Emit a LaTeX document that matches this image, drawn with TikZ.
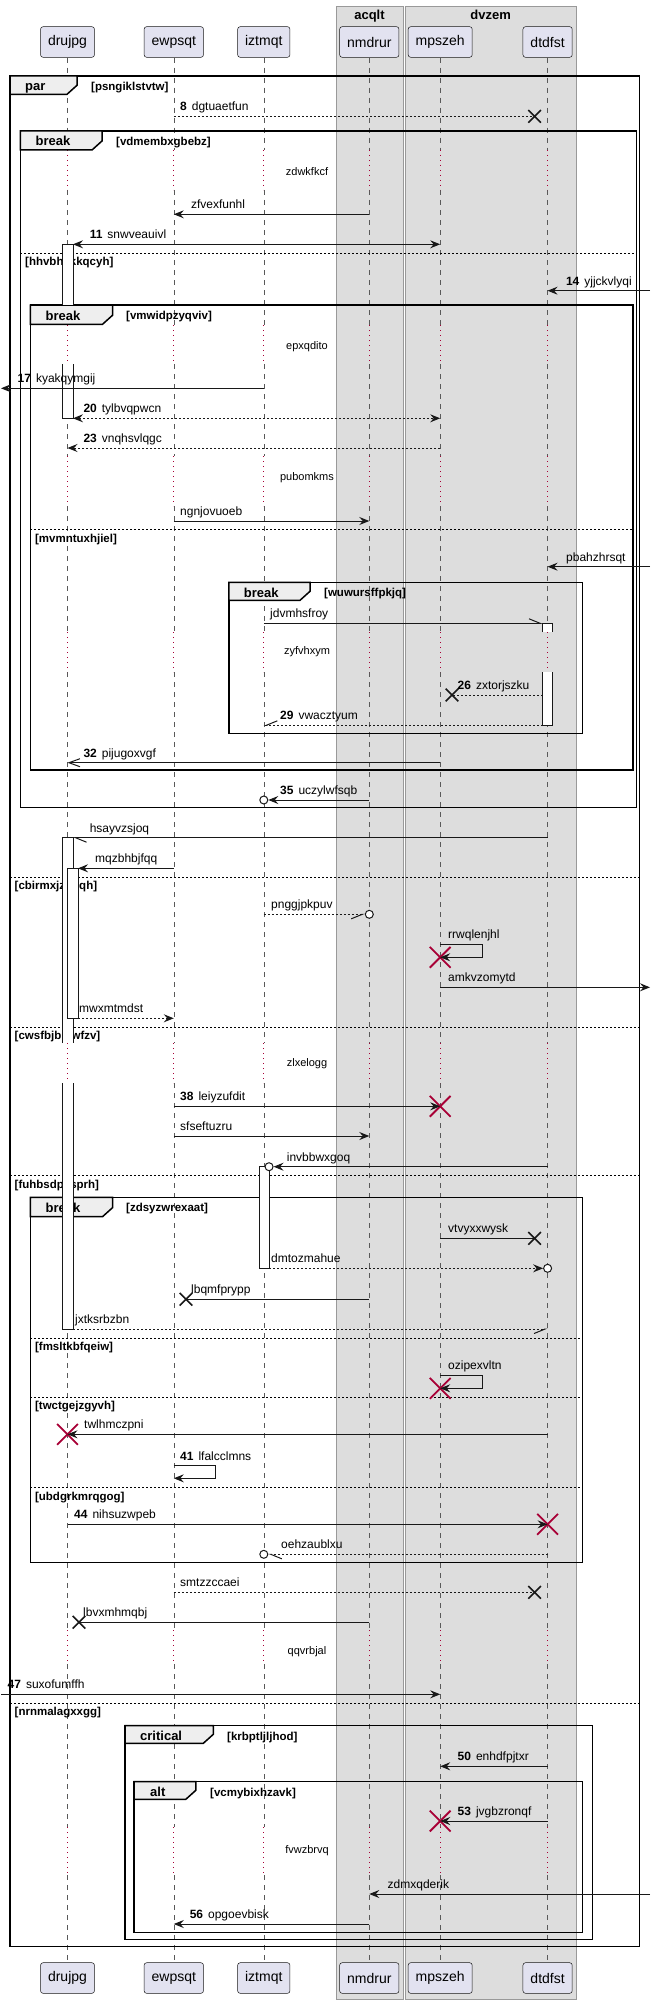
\documentclass[tikz,border=0pt]{standalone}
\usepackage{fontspec}
\setmainfont{Liberation Sans}
\usepackage{tikz}
\usetikzlibrary{arrows.meta,shapes.misc}

\definecolor{partfill}{HTML}{E2E2F0}
\definecolor{linecol}{HTML}{181818}
\definecolor{boxfill}{HTML}{DDDDDD}
\definecolor{tabfill}{HTML}{EEEEEE}
\definecolor{killred}{HTML}{A80036}

\tikzset{
  part/.style={draw=linecol, line width=0.5pt, fill=partfill, rounded corners=2.5pt, inner xsep=7.5pt, inner ysep=0pt, minimum height=30.6pt, font=\fontsize{14}{16}\selectfont},
  grpbox/.style={draw=gray!80, line width=0.7pt, fill=boxfill},
  grptitle/.style={font=\fontsize{13}{15}\selectfont\bfseries, anchor=base, inner sep=0pt},
  lifeline/.style={draw=gray!70!black, line width=0.6pt, dash pattern=on 5pt off 5pt},
  waitline/.style={draw=killred, line width=0.9pt, dash pattern=on 1pt off 4pt},
  grpframe/.style={draw=black, line width=1.5pt},
  grouptab/.style={draw=black, line width=1.5pt, fill=tabfill},
  tabtxt/.style={font=\fontsize{13}{15}\selectfont\bfseries, anchor=base west, inner sep=0pt},
  condtxt/.style={font=\fontsize{11.5}{13}\selectfont\bfseries, anchor=base west, inner sep=0pt},
  elseline/.style={draw=black, line width=0.8pt, dash pattern=on 2pt off 2pt},
  acts/.style={draw=linecol, line width=1pt, fill=white},
  msg/.style={draw=linecol, line width=1pt},
  dotmsg/.style={msg, dash pattern=on 2pt off 2pt},
  lbl/.style={font=\fontsize{12}{14}\selectfont, anchor=base west, inner sep=0pt},
  waittxt/.style={font=\fontsize{11}{13}\selectfont, inner sep=0pt},
  lostx/.style={cross out, draw=linecol, line width=1.6pt, minimum size=11pt, inner sep=0pt},
  killx/.style={cross out, draw=killred, line width=1.8pt, minimum size=19pt, inner sep=0pt},
  endo/.style={circle, draw=linecol, line width=1pt, fill=white, minimum size=8pt, inner sep=0pt}
}

\begin{document}
\begin{tikzpicture}[x=1pt, y=-1pt, >={Stealth[length=10pt,width=8pt,inset=3.5pt]}]
   \useasboundingbox (0,0) rectangle (652,2004);
   %boxes
   \draw[grpbox] (336,6) rectangle (403,1999);
   \draw[grpbox] (405.4,6) rectangle (576,1999);
   \node[grptitle] (acqlt) at (369.5,19.5) {acqlt};
   \node[grptitle] (dvzem) at (490.7,19.5) {dvzem};

   %participants
   \node[part] (drujpg) at (67.5,42) {drujpg};
   \node[part] (ewpsqt) at (173.8,42) {ewpsqt};
   \node[part] (iztmqt) at (263.8,42) {iztmqt};
   \node[part] (nmdrur) at (369.3,42) {nmdrur};
   \node[part] (mpszeh) at (440.2,42) {mpszeh};
   \node[part] (dtdfst) at (547.6,42) {dtdfst};
   \node[part] (drujpg-end) at (67.5,1978) {drujpg};
   \node[part] (ewpsqt-end) at (173.8,1978) {ewpsqt};
   \node[part] (iztmqt-end) at (263.8,1978) {iztmqt};
   \node[part] (nmdrur-end) at (369.3,1978) {nmdrur};
   \node[part] (mpszeh-end) at (440.2,1978) {mpszeh};
   \node[part] (dtdfst-end) at (547.6,1978) {dtdfst};

   \coordinate (druA) at ([xshift=5.5pt]drujpg.center);
   \coordinate (druB) at ([xshift=10.5pt]drujpg.center);
   \coordinate (dtdA) at ([xshift=-5pt]dtdfst.center);
   \coordinate (iztA) at ([xshift=5.25pt]iztmqt.center);
   \coordinate (leftrim) at (1,0);
   \coordinate (rightrim) at (650,0);

   %lifelines
   \foreach \p in {drujpg,ewpsqt,iztmqt,nmdrur,mpszeh,dtdfst}{
     \draw[lifeline] (\p.south) -- (\p |- 0,150)
        (\p |- 0,190) -- (\p |- 0,325)
        (\p |- 0,364) -- (\p |- 0,456)
        (\p |- 0,506) -- (\p |- 0,632)
        (\p |- 0,672) -- (\p |- 0,1043)
        (\p |- 0,1083) -- (\p |- 0,1630)
        (\p |- 0,1664) -- (\p |- 0,1827)
        (\p |- 0,1875) -- (\p-end.north);
     \draw[waitline] (\p |- 0,150) -- (\p |- 0,190)
        (\p |- 0,325) -- (\p |- 0,364)
        (\p |- 0,456) -- (\p |- 0,506)
        (\p |- 0,632) -- (\p |- 0,672)
        (\p |- 0,1043) -- (\p |- 0,1083)
        (\p |- 0,1630) -- (\p |- 0,1664)
        (\p |- 0,1827) -- (\p |- 0,1875);
   }

   %frames
   \draw[grpframe] (10,76) rectangle (639.6,1946.7);
   \draw[grouptab] (10,76) -- (77,76) -- (77,85.3) -- (67,94.3) -- (10,94.3) -- cycle;
   \node[tabtxt] (parA) at (25,91) {par};
   \node[condtxt] (parAc) at (91,90.5) {[psngiklstvtw]};
   \draw[elseline] (10,877.3) -- (639.6,877.3);
   \draw[elseline] (10,1027.3) -- (639.6,1027.3);
   \draw[elseline] (10,1175.7) -- (639.6,1175.7);
   \draw[elseline] (10,1703.3) -- (639.6,1703.3);
   \node[condtxt] (parA1) at (14.5,889.8) {[cbirmxjzudqh]};
   \node[condtxt] (parA2) at (14.5,1039.8) {[cwsfbjbmwfzv]};
   \node[condtxt] (parA3) at (14.5,1188.2) {[fuhbsdpysprh]};
   \node[condtxt] (parA4) at (14.5,1715.8) {[nrnmalagxxgg]};

   \draw[grpframe] (20.4,131) rectangle (636.5,807.7);
   \draw[grouptab] (20.4,131) -- (102,131) -- (102,141) -- (92,150) -- (20.4,150) -- cycle;
   \node[tabtxt] (brkA) at (35.4,146) {break};
   \node[condtxt] (brkAc) at (116,145.5) {[vdmembxgbebz]};
   \draw[elseline] (20.4,253.3) -- (636.5,253.3);
   \node[condtxt] (brkA1) at (25,265.8) {[hhvbhxkkqcyh]};

   \draw[grpframe] (30.4,305) rectangle (633,770);
   \draw[grouptab] (30.4,305) -- (112.5,305) -- (112.5,315.3) -- (102.5,324.3) -- (30.4,324.3) -- cycle;
   \node[tabtxt] (brkB) at (45.4,320) {break};
   \node[condtxt] (brkBc) at (126,319.5) {[vmwidpzyqviv]};
   \draw[elseline] (30.4,529.7) -- (633,529.7);
   \node[condtxt] (brkB1) at (34.9,542.2) {[mvmntuxhjiel]};

   \draw[grpframe] (228.75,582.3) rectangle (582.5,733.3);
   \draw[grouptab] (228.75,582.3) -- (310,582.3) -- (310,591.3) -- (300,600.3) -- (228.75,600.3) -- cycle;
   \node[tabtxt] (brkC) at (243.75,597.3) {break};
   \node[condtxt] (brkCc) at (324,596.8) {[wuwursffpkjq]};

   \draw[grpframe] (30.4,1197.3) rectangle (582.5,1562.7);
   \draw[grouptab] (30.4,1197.3) -- (112.5,1197.3) -- (112.5,1207.7) -- (102.5,1216.7) -- (30.4,1216.7) -- cycle;
   \node[tabtxt] (brkD) at (45.4,1212.3) {break};
   \node[condtxt] (brkDc) at (126,1211.8) {[zdsyzwrexaat]};
   \draw[elseline] (30.4,1338.3) -- (582.5,1338.3);
   \draw[elseline] (30.4,1397.3) -- (582.5,1397.3);
   \draw[elseline] (30.4,1487.5) -- (582.5,1487.5);
   \node[condtxt] (brkD1) at (34.9,1350.8) {[fmsltkbfqeiw]};
   \node[condtxt] (brkD2) at (34.9,1409.8) {[twctgejzgyvh]};
   \node[condtxt] (brkD3) at (34.9,1500) {[ubdgrkmrqgog]};

   \draw[grpframe] (125,1725.7) rectangle (592.5,1939.3);
   \draw[grouptab] (125,1725.7) -- (213.3,1725.7) -- (213.3,1734.3) -- (203.3,1743.3) -- (125,1743.3) -- cycle;
   \node[tabtxt] (crtA) at (140,1740.7) {critical};
   \node[condtxt] (crtAc) at (227,1740.2) {[krbptljljhod]};

   \draw[grpframe] (134,1781.7) rectangle (582.5,1932.3);
   \draw[grouptab] (134,1781.7) -- (195.8,1781.7) -- (195.8,1790.3) -- (185.8,1799.3) -- (134,1799.3) -- cycle;
   \node[tabtxt] (altA) at (150,1796.7) {alt};
   \node[condtxt] (altAc) at (210,1796.2) {[vcmybixhzavk]};

   %activations
   \draw[acts] (62.5,305) -- (62.5,244.3) -- (73,244.3) -- (73,305);
   \draw[acts] (62.5,364) -- (62.5,418.3) -- (73,418.3) -- (73,364);
   \draw[acts] (542.5,632) -- (542.5,623.3) -- (552.5,623.3) -- (552.5,632);
   \draw[acts] (542.5,672) -- (542.5,725.3) -- (552.5,725.3) -- (552.5,672);
   \draw[acts] (62.5,1043) -- (62.5,837.7) -- (73,837.7) -- (73,1043);
   \draw[acts] (62.5,1083) -- (62.5,1329) -- (73,1329) -- (73,1083);
   \draw[acts] (67.5,868.3) rectangle (78,1018.3);
   \draw[acts] (259,1166.7) rectangle (269,1268.3);

   %delays
   \node[waittxt] (w1) at (307,171.7) {zdwkfkcf};
   \node[waittxt] (w2) at (307,346.7) {epxqdito};
   \node[waittxt] (w3) at (307,478) {pubomkms};
   \node[waittxt] (w4) at (307,651.7) {zyfvhxym};
   \node[waittxt] (w5) at (307,1064) {zlxelogg};
   \node[waittxt] (w6) at (307,1651.7) {qqvrbjal};
   \node[waittxt] (w7) at (307,1851) {fvwzbrvq};

   %ends
   \node[lostx] (x8) at (534.6,116.3) {};
   \node[lostx] (x26) at (452,695) {};
   \node[lostx] (x29) at (534.6,1238.3) {};
   \node[lostx] (x31) at (186,1299.3) {};
   \node[lostx] (x38) at (534.6,1592.3) {};
   \node[lostx] (x39) at (79,1622.3) {};
   \node[endo] (o35) at (iztmqt |- 0,800) {};
   \node[endo] (o21) at (nmdrur |- 0,914.3) {};
   \node[endo] (o28) at (iztA |- 0,1166.7) {};
   \node[endo] (o30) at (dtdfst |- 0,1268.3) {};
   \node[endo] (o37) at (iztmqt |- 0,1554.3) {};

   %messages
   \draw[dotmsg] (ewpsqt |- 0,116.3) -- (x8.center);
   \draw[msg,->] (nmdrur |- 0,214.3) -- (ewpsqt |- 0,214.3);
   \draw[msg,<->] (druA |- 0,244.3) -- (mpszeh |- 0,244.3);
   \draw[msg,->] (rightrim |- 0,290.7) -- (dtdfst |- 0,290.7);
   \draw[msg,->] (iztmqt |- 0,388.3) -- (leftrim |- 0,388.3);
   \draw[dotmsg,<->] (druA |- 0,418.3) -- (mpszeh |- 0,418.3);
   \draw[dotmsg,->] (mpszeh |- 0,448) -- (drujpg |- 0,448);
   \draw[msg,->] (ewpsqt |- 0,521) -- (nmdrur |- 0,521);
   \draw[msg,->] (rightrim |- 0,566.7) -- (dtdfst |- 0,566.7);
   \draw[msg,-{Straight Barb[left,length=11pt,width=9pt]}] (iztmqt |- 0,623.3) -- (dtdA |- 0,623.3);
   \draw[dotmsg] (dtdA |- 0,695) -- (x26.center);
   \draw[dotmsg,-{Straight Barb[right,length=11pt,width=9pt]}] (dtdA |- 0,725.3) -- (iztmqt |- 0,725.3);
   \draw[msg,-{Straight Barb[length=11pt,width=8pt]}] (mpszeh |- 0,762.7) -- (drujpg |- 0,762.7);
   \draw[msg,->] (nmdrur |- 0,800) -- (o35);
   \draw[msg,-{Straight Barb[left,length=11pt,width=9pt]}] (dtdfst |- 0,837.7) -- (druA |- 0,837.7);
   \draw[msg,->] (ewpsqt |- 0,868.3) -- (druB |- 0,868.3);
   \draw[dotmsg,-{Straight Barb[right,length=11pt,width=9pt]}] (iztmqt |- 0,914.3) -- (o21);
   \node[killx] (k22) at (mpszeh |- 0,957.3) {};
   \draw[msg,->] (mpszeh |- 0,944.3) -- ++(42.5,0) |- (k22.center);
   \draw[msg,->] (mpszeh |- 0,987.3) -- (rightrim |- 0,987.3);
   \draw[dotmsg,->] (druB |- 0,1018.3) -- (ewpsqt |- 0,1018.3);
   \node[killx] (k38) at (mpszeh |- 0,1106.3) {};
   \draw[msg,->] (ewpsqt |- 0,1106.3) -- (k38.center);
   \draw[msg,->] (ewpsqt |- 0,1136) -- (nmdrur |- 0,1136);
   \draw[msg,->] (dtdfst |- 0,1166.7) -- (o28);
   \draw[msg] (mpszeh |- 0,1238.3) -- (x29.center);
   \draw[dotmsg,->] (iztA |- 0,1268.3) -- (o30);
   \draw[msg] (nmdrur |- 0,1299.3) -- (x31.center);
   \draw[dotmsg,-{Straight Barb[right,length=11pt,width=9pt]}] (druA |- 0,1329) -- (dtdfst |- 0,1329);
   \node[killx] (k33) at (mpszeh |- 0,1388.3) {};
   \draw[msg,->] (mpszeh |- 0,1375) -- ++(42.5,0) |- (k33.center);
   \node[killx] (k34) at (drujpg |- 0,1434.3) {};
   \draw[msg,->] (dtdfst |- 0,1434.3) -- (k34.center);
   \draw[msg,->] (ewpsqt |- 0,1465.7) -- ++(42,0) |- (ewpsqt |- 0,1478.3);
   \node[killx] (k44) at (dtdfst |- 0,1524.3) {};
   \draw[msg,->] (drujpg |- 0,1524.3) -- (k44.center);
   \draw[dotmsg,-{Straight Barb[left,length=11pt,width=9pt]}] (dtdfst |- 0,1554.3) -- (o37);
   \draw[dotmsg] (ewpsqt |- 0,1592.3) -- (x38.center);
   \draw[msg] (nmdrur |- 0,1622.3) -- (x39.center);
   \draw[msg,->] (leftrim |- 0,1694.3) -- (mpszeh |- 0,1694.3);
   \draw[msg,->] (dtdfst |- 0,1766.3) -- (mpszeh |- 0,1766.3);
   \node[killx] (k53) at (mpszeh |- 0,1821) {};
   \draw[msg,->] (dtdfst |- 0,1821) -- (k53.center);
   \draw[msg,->] (rightrim |- 0,1894) -- (nmdrur |- 0,1894);
   \draw[msg,->] (nmdrur |- 0,1924) -- (ewpsqt |- 0,1924);

   %labels
   \node[lbl] (l8) at (180,110.8) {\textbf{8}\hspace{5pt}dgtuaetfun};
   \node[lbl] (l10) at (190.8,208.8) {zfvexfunhl};
   \node[lbl] (l11) at (89.6,238.8) {\textbf{11}\hspace{5pt}snwveauivl};
   \node[lbl] (l14) at (565.8,285.2) {\textbf{14}\hspace{5pt}yjjckvlyqi};
   \node[lbl] (l17) at (17.5,382.8) {\textbf{17}\hspace{5pt}kyakqymgij};
   \node[lbl] (l20) at (83.3,412.8) {\textbf{20}\hspace{5pt}tylbvqpwcn};
   \node[lbl] (l23) at (83.3,442.5) {\textbf{23}\hspace{5pt}vnqhsvlqgc};
   \node[lbl] (l24) at (180,515.5) {ngnjovuoeb};
   \node[lbl] (l25) at (566,561.2) {pbahzhrsqt};
   \node[lbl] (l25b) at (270,617.8) {jdvmhsfroy};
   \node[lbl] (l26) at (457.5,689.5) {\textbf{26}\hspace{5pt}zxtorjszku};
   \node[lbl] (l29) at (280,719.8) {\textbf{29}\hspace{5pt}vwacztyum};
   \node[lbl] (l32) at (83.3,757.2) {\textbf{32}\hspace{5pt}pijugoxvgf};
   \node[lbl] (l35) at (280,794.5) {\textbf{35}\hspace{5pt}uczylwfsqb};
   \node[lbl] (l36) at (89.6,832.2) {hsayvzsjoq};
   \node[lbl] (l37) at (95,862.8) {mqzbhbjfqq};
   \node[lbl] (l37b) at (271,908.8) {pnggjpkpuv};
   \node[lbl] (l37c) at (448,938.8) {rrwqlenjhl};
   \node[lbl] (l37d) at (448,981.8) {amkvzomytd};
   \node[lbl] (l37e) at (79,1012.8) {mwxmtmdst};
   \node[lbl] (l38) at (180,1100.8) {\textbf{38}\hspace{5pt}leiyzufdit};
   \node[lbl] (l39) at (180,1130.5) {sfseftuzru};
   \node[lbl] (l39b) at (286.7,1161.2) {invbbwxgoq};
   \node[lbl] (l39c) at (448,1232.8) {vtvyxxwysk};
   \node[lbl] (l39d) at (271,1262.8) {dmtozmahue};
   \node[lbl] (l39e) at (191,1293.8) {lbqmfprypp};
   \node[lbl] (l39f) at (75,1323.5) {jxtksrbzbn};
   \node[lbl] (l40) at (448,1369.5) {ozipexvltn};
   \node[lbl] (l40b) at (84,1428.8) {twlhmczpni};
   \node[lbl] (l41) at (180,1460.2) {\textbf{41}\hspace{5pt}lfalcclmns};
   \node[lbl] (l44) at (74,1518.8) {\textbf{44}\hspace{5pt}nihsuzwpeb};
   \node[lbl] (l45) at (281,1548.8) {oehzaublxu};
   \node[lbl] (l45b) at (180,1586.8) {smtzzccaei};
   \node[lbl] (l45c) at (83,1616.8) {lbvxmhmqbj};
   \node[lbl] (l47) at (7.5,1688.8) {\textbf{47}\hspace{5pt}suxofumffh};
   \node[lbl] (l50) at (457.5,1760.8) {\textbf{50}\hspace{5pt}enhdfpjtxr};
   \node[lbl] (l53) at (457.5,1815.5) {\textbf{53}\hspace{5pt}jvgbzronqf};
   \node[lbl] (l54) at (387.5,1888.5) {zdmxqderik};
   \node[lbl] (l56) at (189.6,1918.5) {\textbf{56}\hspace{5pt}opgoevbisk};

\end{tikzpicture}
\end{document}
